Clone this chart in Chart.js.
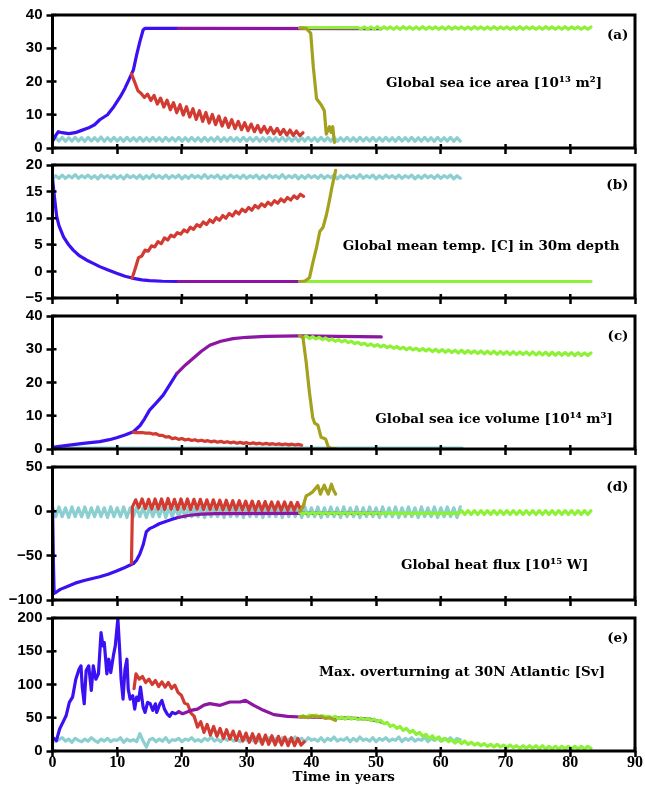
<!DOCTYPE html>
<html>
<head>
<meta charset="utf-8">
<script src="https://cdn.jsdelivr.net/npm/chart.js@4.4.1/dist/chart.umd.min.js"></script>
<style>
html, body { margin: 0; padding: 0; background: #fff; overflow: hidden; }
canvas { position: absolute; left: 0; }
</style>
</head>
<body>
<canvas id="panel-a" width="645" height="151" style="top:7px"></canvas>
<canvas id="panel-b" width="645" height="151" style="top:157px"></canvas>
<canvas id="panel-c" width="645" height="151" style="top:308px"></canvas>
<canvas id="panel-d" width="645" height="151" style="top:459px"></canvas>
<canvas id="panel-e" width="645" height="179" style="top:610px"></canvas>
<script>
// x axis: time in years
var xTicks = [0, 10, 20, 30, 40, 50, 60, 70, 80, 90];

// ---------- (a) global sea ice area ----------
var tealA = [2.2,3.1,2.1,3.2,2.0,3.1,2.1,3.2,2.1,3.1,
	2.0,3.2,2.1,3.1,2.1,3.3,2.0,3.1,2.1,3.2,
	2.1,3.1,2.0,3.2,2.1,3.1,2.1,3.2,2.0,3.1,
	2.1,3.2,2.1,3.1,2.0,3.2,2.1,3.1,2.1,3.2,
	2.0,3.1,2.1,3.2,2.1,3.1,2.0,3.2,2.1,3.1,
	2.1,3.3,2.0,3.1,2.1,3.2,2.1,3.1,2.0,3.2,
	2.1,3.1,2.1,3.2,2.0,3.1,2.1,3.2,2.1,3.1,
	2.0,3.2,2.1,3.1,2.1,3.2,2.0,3.1,2.1,3.2,
	2.1,3.1,2.0,3.2,2.1,3.1,2.1,3.2,2.0,3.1,
	2.1,3.2,2.1,3.1,2.0,3.2,2.1,3.1,2.1,3.2,
	2.0,3.1,2.1,3.2,2.1,3.1,2.0,3.2,2.1,3.1,
	2.1,3.2,2.0,3.1,2.1,3.2,2.1,3.1,2.0,3.2,
	2.1,3.1,2.1,3.2,2.0,3.1,2.1];
var blueA = [[0,2.0],[0.5,3.8],[0.9,4.9],[1.5,4.6],[2.5,4.3],[3.5,4.6],[4.5,5.3],[5.5,6.0],[6.5,7.0],
	[7.3,8.5],[8.5,10.0],[9.5,12.5],[10.5,15.5],[11.2,18.0],[11.8,20.5],[12.5,23.5],[13.0,28.0],
	[13.5,32.0],[14.0,35.5],[14.3,36.0],[19.4,36.0]];
var purpleA = [[19.4,36.0],[50.8,35.9]];
var redA = [22.3,19.8,17.2,16.4,15.2,16.2,14.3,15.8,13.2,15.0,
	12.3,14.4,11.5,13.6,10.6,13.0,9.9,12.4,9.3,11.8,
	8.6,11.2,8.0,10.7,7.5,10.1,7.0,9.6,6.6,9.0,
	6.2,8.5,5.8,8.0,5.5,7.6,5.2,7.2,4.9,6.8,
	4.7,6.5,4.5,6.2,4.3,5.9,4.1,5.6,3.9,5.4,
	3.8,5.1,3.7,4.6];
var oliveA = [[38.2,36.1],[39.2,36.0],[39.9,34.5],[40.3,24.3],[40.8,14.8],[41.5,13.0],[42.0,11.2],
	[42.3,4.2],[42.8,6.4],[43.05,4.7],[43.3,6.4],[43.55,1.7]];
var greenA = [36.2,36.2,36.2,36.2,36.2,36.2,36.2,36.2,36.2,36.2,
	36.2,36.2,36.2,36.2,36.2,36.2,36.2,36.2,36.2,35.8,
	36.4,35.7,36.4,35.7,36.5,35.7,36.4,35.8,36.4,35.7,
	36.4,35.7,36.5,35.8,36.4,35.7,36.4,35.7,36.5,35.7,
	36.4,35.8,36.4,35.7,36.4,35.7,36.5,35.7,36.4,35.8,
	36.4,35.7,36.4,35.7,36.5,35.8,36.4,35.7,36.4,35.7,
	36.5,35.7,36.4,35.8,36.4,35.7,36.4,35.7,36.5,35.7,
	36.4,35.8,36.4,35.7,36.4,35.7,36.5,35.8,36.4,35.7,
	36.4,35.7,36.5,35.7,36.4,35.8,36.4,35.7,36.4,35.7,
	36.4];

// ---------- (b) mean temperature in 30m ----------
var tealB = [17.4,18.0,17.5,18.1,17.5,18.0,17.6,18.2,17.5,18.0,
	17.6,18.1,17.5,18.0,17.4,18.1,17.6,18.0,17.5,18.1,
	17.5,18.0,17.4,18.1,17.6,18.0,17.5,18.1,17.4,18.0,
	17.5,18.2,17.6,18.0,17.5,18.1,17.5,18.0,17.6,18.1,
	17.4,18.0,17.5,18.1,17.6,18.0,17.5,18.2,17.5,18.0,
	17.6,18.1,17.4,18.0,17.5,18.1,17.6,18.0,17.5,18.1,
	17.5,18.0,17.6,18.1,17.4,18.0,17.5,18.1,17.6,18.0,
	17.5,18.2,17.5,18.0,17.6,18.1,17.4,18.0,17.5,18.1,
	17.6,18.0,17.5,18.1,17.5,18.0,17.6,18.1,17.4,18.0,
	17.5,18.1,17.6,18.0,17.5,18.2,17.5,18.0,17.6,18.1,
	17.4,18.0,17.5,18.1,17.6,18.0,17.5,18.1,17.5,18.0,
	17.6,18.1,17.4,18.0,17.5,18.1,17.6,18.0,17.5,18.1,
	17.5,18.0,17.6,18.1,17.4,18.0,17.5];
var blueB = [[0,17.5],[0.3,14.0],[0.65,10.3],[1.0,8.6],[1.7,6.5],[2.5,5.0],[3.2,4.0],[4.2,2.9],
	[5.3,2.1],[6.3,1.5],[7.3,0.9],[8.5,0.3],[9.9,-0.35],[11.2,-0.9],[12.5,-1.3],[13.8,-1.6],
	[15.0,-1.75],[17.0,-1.85],[19.4,-1.9]];
var purpleB = [[19.4,-1.9],[50.8,-1.9]];
var redB = [-1.3,0.6,2.6,2.9,4.0,3.8,4.8,4.6,5.6,5.2,
	6.3,5.9,6.8,6.5,7.3,7.0,7.8,7.4,8.3,7.9,
	8.8,8.4,9.3,8.8,9.7,9.2,10.1,9.6,10.5,10.0,
	10.9,10.4,11.3,10.8,11.7,11.2,12.0,11.5,12.4,11.9,
	12.7,12.2,13.0,12.5,13.3,12.8,13.6,13.1,13.9,13.4,
	14.2,13.7,14.5,14.1];
var oliveB = [[38.2,-1.9],[39.0,-1.8],[39.7,-1.2],[40.2,1.5],[40.8,4.5],[41.3,7.5],[41.8,8.3],
	[42.3,10.5],[42.8,13.4],[43.2,16.0],[43.75,19.0]];
var greenB = [[38.2,-1.9],[83.2,-1.9]];

// ---------- (c) global sea ice volume ----------
var tealC = [[0,0.3],[63.3,0.3]];
var blueC = [[0,0.5],[2,1.0],[4.75,1.7],[7.3,2.2],[8.8,2.8],[9.9,3.4],[11.2,4.2],[12.5,5.2],
	[13.5,7.0],[14.2,9.0],[15.0,11.7],[16.0,13.8],[17.1,16.2],[18.2,19.6],[19.2,22.7]];
var purpleC = [[19.2,22.7],[20.5,25.2],[21.7,27.2],[23.0,29.4],[24.3,31.2],[26.0,32.4],[27.9,33.2],
	[30.0,33.6],[33.0,33.9],[38.2,34.0],[44.0,33.9],[50.8,33.7]];
var redC = [5.0,4.95,4.9,4.9,4.75,4.8,4.5,4.6,4.1,4.1,
	3.6,3.7,3.1,3.35,2.9,3.15,2.7,2.95,2.55,2.8,
	2.4,2.65,2.3,2.5,2.15,2.4,2.05,2.3,1.95,2.2,
	1.85,2.1,1.75,2.0,1.7,1.9,1.6,1.85,1.55,1.75,
	1.45,1.7,1.4,1.6,1.35,1.55,1.3,1.5,1.25,1.45,
	1.2,1.4,1.15];
var oliveC = [[38.2,34.0],[38.7,33.5],[39.2,26.0],[39.7,17.0],[40.2,9.5],[40.5,7.8],[41.0,7.2],
	[41.5,3.5],[42.2,3.0],[42.6,0.7],[43.0,0.2],[43.75,0.1]];
var greenC = [34.0,33.4,34.0,33.2,33.8,33.1,33.6,32.9,33.4,32.6,
	33.1,32.4,32.9,32.2,32.7,32.0,32.4,31.7,32.1,31.4,
	31.8,31.1,31.6,30.9,31.4,30.7,31.2,30.5,31.0,30.3,
	30.8,30.1,30.6,29.9,30.5,29.8,30.3,29.6,30.2,29.5,
	30.1,29.3,30.0,29.2,29.9,29.1,29.8,29.0,29.7,28.9,
	29.7,28.8,29.6,28.8,29.5,28.7,29.5,28.6,29.4,28.6,
	29.4,28.5,29.3,28.5,29.3,28.4,29.3,28.4,29.2,28.4,
	29.2,28.3,29.2,28.3,29.1,28.3,29.1,28.2,29.1,28.2,
	29.0,28.2,29.0,28.2,29.0,28.1,29.0,28.1,28.9,28.1,
	28.9];

// ---------- (d) global heat flux ----------
var tealD = [4,-6,5,-6,4,-7,5,-6,4,-6,
	5,-7,4,-6,5,-6,4,-7,5,-6,
	4,-6,5,-7,4,-6,5,-6,4,-7,
	5,-6,4,-6,5,-7,4,-6,5,-6,
	4,-7,5,-6,4,-6,5,-7,4,-6,
	5,-6,4,-7,5,-6,4,-6,5,-7,
	4,-6,5,-6,4,-7,5,-6,4,-6,
	5,-7,4,-6,5,-6,4,-7,5,-6,
	4,-6,5,-7,4,-6,5,-6,4,-7,
	5,-6,4,-6,5,-7,4,-6,5,-6,
	4,-7,5,-6,4,-6,5,-7,4,-6,
	5,-6,4,-7,5,-6,4,-6,5,-7,
	4,-6,5,-6,4,-7,5];
var blueD = [[0,5],[0.15,-60],[0.25,-92.5],[0.6,-91],[1.2,-88],[2.2,-85],[3.5,-81],[4.75,-78.3],
	[6.0,-76],[7.3,-73.8],[8.6,-71],[9.9,-67.4],[11.0,-64],[12.0,-60.6],[12.5,-59],[13.0,-55],
	[13.5,-48],[14.0,-38],[14.5,-23],[15.0,-19.5],[15.6,-17.5],[16.5,-14],[17.6,-11.1],
	[18.5,-9],[19.4,-7]];
var purpleD = [[19.4,-7],[21.2,-4.4],[23.0,-3.2],[25.3,-2.5],[38.2,-2.3],[50.8,-2.3]];
var redDStart = [[12.2,-58.5]];
var redD = [5,13,4,14,3,13.5,2.5,14,2.5,14,
	2,14.5,2.5,13.5,2,14,2.5,14,2,13.5,
	2.5,13.5,2,13,2,13,2,12.5,1.5,12.5,
	1.5,12,1.5,12,1.5,11.5,1,11.5,1,11,
	1,11,1,10.5,1,10.5,1,10.5,1,10,
	1,10,1.5,8];
var oliveD = [[38.2,0],[38.7,5],[39.2,17.5],[39.7,19.4],[40.2,22],[40.5,24.7],[41.0,29],[41.4,19.4],
	[41.7,25],[42.0,29.4],[42.3,24],[42.6,19.4],[43.1,30.6],[43.4,24],[43.75,19.4]];
var greenD = [-1.5,-3.0,-1.5,-3.0,-1.5,-3.0,-1.5,-3.0,-1.5,-3.0,
	-1.5,-3.0,-1.5,-3.0,-1.5,-3.0,-1.5,-3.0,-1.5,-3.0,
	-1.5,-3.0,-1.5,-3.0,-1.5,-3.0,-1.5,-3.0,-1.5,-3.0,
	-1.5,-3.0,-1.5,-3.0,-1.5,-3.0,-1.5,-3.0,-1.5,-3.0,
	-1.5,-3.0,-1.5,-3.0,-1.5,-3.0,-1.5,-3.0,-1.5,-3.0,
	0.8,-3.5,0.8,-3.5,0.8,-3.5,0.8,-3.5,0.8,-3.5,
	0.8,-3.5,0.8,-3.5,0.8,-3.5,0.8,-3.5,0.8,-3.5,
	0.8,-3.5,0.8,-3.5,0.8,-3.5,0.8,-3.5,0.8,-3.5,
	0.8,-3.5,0.8,-3.5,0.8,-3.5,0.8,-3.5,0.8,-3.5,
	0.8];

// ---------- (e) max. overturning at 30N ----------
var tealE = [19,14,17,20,15,18,13,19,16,14,
	18,15,20,16,13,18,15,19,14,17,
	16,20,13,18,15,17,14,26,15,6,
	17,19,14,18,15,20,13,17,16,19,
	14,18,16,20,15,17,14,19,16,21,
	15,18,14,20,16,19,15,18,14,20,
	16,19,15,21,14,18,16,20,15,19,
	14,20,16,18,15,21,16,19,14,20,
	16,18,15,20,14,19,16,21,15,18,
	16,20,14,19,15,21,16,18,15,20,
	14,19,16,20,15,18,16,21,14,19,
	16,20,15,18,16,21,14,19,16,20,
	15,19,16,20,14,19,17];
var blueE = [[0,20.6],[0.6,15.6],[1.1,33],[1.6,43],[2.1,53],[2.6,73],[3.1,81],[3.6,108],[4.1,123],
	[4.4,128],[4.6,96],[4.9,71],[5.2,121],[5.6,128],[6.0,91],[6.3,128],[6.7,108],[7.1,116],
	[7.5,178],[7.8,158],[8.0,163],[8.4,116],[8.7,138],[9.0,118],[9.4,143],[9.7,158],[10.1,199],
	[10.4,148],[10.6,108],[10.9,78],[11.2,123],[11.5,138],[11.7,93],[12.0,78],[12.4,83],
	[12.7,63],[13.0,81],[13.3,76],[13.6,96],[14.0,66],[14.3,58],[14.7,73],[15.1,71],[15.5,61],
	[15.9,71],[16.1,58],[16.6,71],[16.9,76],[17.3,63],[17.7,56],[18.1,52],[18.5,58],[19.0,56],
	[19.5,59]];
var purpleE = [[19.5,59],[20.1,56],[20.6,58],[21.4,61],[22.4,63],[23.4,69],[24.3,71.2],[25.9,68.7],
	[27.4,73.7],[29.0,73.7],[29.8,76.2],[31.1,68.7],[32.6,61.2],[34.2,54.7],[36.3,52.2],
	[38.3,51.1],[42.0,50.5],[46.0,49.5],[49.0,48],[50.8,43.6]];
var redEStart = [[12.6,93.8],[12.9,116]];
var redE = [108,112,103,108,100,106,97,104,96,103,
	94,99,88,84,72,70,57,52,36,44,
	28,40,24,37,22,34,19,32,18,30,
	16,29,15,27,13,26,12,25,10,24,
	10,23,9,22,9,21,8,20,8,19,
	9,14];
var oliveE = [[38.2,51],[38.8,52],[39.5,50],[40.2,53],[40.8,51],[41.5,52],[42.2,49],[42.8,50],[43.75,46]];
var greenE = [51,53,51,54,52,54,52,53,51,52,
	50,52,49,51,48,51,48,50,47,50,
	47,49,46,48,44,46,41,43,37,39,
	34,37,31,34,28,31,25,28,22,25,
	19,23,17,21,15,19,14,17,12,16,
	11,15,10,13,9,12,8,11,7,10,
	6,10,6,9,5,9,5,8,4,8,
	4,8,4,8,3,8,3,7,3,7,
	3,7,3,7,3,7,3,7,3,7,
	4];

var BLUE = '#3b10f2', RED = '#d23b31', PURPLE = '#8c16a2', OLIVE = '#a3a11d', GREEN = '#8df136', TEAL = '#8ccfd0';

function series(t0, dt, vals) {
	return vals.map(function(v, i) { return {x: t0 + i * dt, y: v}; });
}
function pairs(arr) {
	return arr.map(function(p) { return {x: p[0], y: p[1]}; });
}
function line(data, color, order) {
	return {data: data, borderColor: color, borderWidth: 3.2, pointRadius: 0, tension: 0,
		fill: false, order: order, borderJoinStyle: 'round', borderCapStyle: 'round'};
}

// frame, inner tick stubs, panel tag, panel title and axis title
var framePlugin = {
	id: 'frame',
	afterDraw: function(chart) {
		var a = chart.chartArea, ctx = chart.ctx;
		var o = chart.options.plugins.frame;
		ctx.save();
		ctx.strokeStyle = '#000';
		ctx.lineWidth = 3;
		ctx.strokeRect(a.left, a.top, a.right - a.left, a.bottom - a.top);
		ctx.lineWidth = 2.5;
		ctx.beginPath();
		chart.scales.x.ticks.forEach(function(t) {
			var px = chart.scales.x.getPixelForValue(t.value);
			ctx.moveTo(px, a.bottom);
			ctx.lineTo(px, a.bottom - 4);
		});
		chart.scales.y.ticks.forEach(function(t) {
			var py = chart.scales.y.getPixelForValue(t.value);
			ctx.moveTo(a.left, py);
			ctx.lineTo(a.left + 4, py);
		});
		ctx.stroke();
		ctx.fillStyle = '#000';
		ctx.font = 'bold 13.5px "DejaVu Serif"';
		ctx.textBaseline = 'middle';
		ctx.textAlign = 'right';
		ctx.fillText(o.tag, a.right - 6.5, a.top + 20.5);
		ctx.textAlign = 'center';
		ctx.fillText(o.title, a.left + o.tx * (a.right - a.left), a.top + o.ty);
		if (o.xtitle)
			ctx.fillText(o.xtitle, (a.left + a.right) / 2, a.bottom + 26);
		ctx.restore();
	}
};

function makePanel(id, yMin, yMax, yStep, datasets, frame, last) {
	return new Chart(document.getElementById(id), {
		type: 'line',
		data: {datasets: datasets},
		plugins: [framePlugin],
		options: {
			responsive: false,
			animation: false,
			events: [],
			layout: {padding: {top: 8, right: 10, left: 0, bottom: 0}},
			plugins: {legend: {display: false}, tooltip: {enabled: false}, frame: frame},
			scales: {
				x: {
					type: 'linear', min: 0, max: 90,
					afterBuildTicks: function(s) { s.ticks = xTicks.map(function(v) { return {value: v}; }); },
					grid: {drawOnChartArea: false, drawTicks: true, tickLength: 6, tickWidth: 2.5, tickColor: '#000'},
					border: {display: false},
					ticks: {display: last, color: '#000', padding: -4, maxRotation: 0, autoSkip: false,
						font: {family: 'Liberation Serif', weight: 'bold', size: 16}},
					afterFit: function(s) { s.height = last ? 38 : 10; s.paddingLeft = 0; s.paddingRight = 0; }
				},
				y: {
					min: yMin, max: yMax,
					grid: {drawOnChartArea: false, drawTicks: true, tickLength: 6, tickWidth: 2.5, tickColor: '#000'},
					border: {display: false},
					ticks: {stepSize: yStep, color: '#000', padding: 4,
						font: {family: 'Liberation Sans', weight: 'bold', size: 15},
						callback: function(v) { return String(v).replace('-', '\u2212'); }},
					afterFit: function(s) { s.width = 52.5; s.paddingTop = 0; s.paddingBottom = 0; }
				}
			}
		}
	});
}

makePanel('panel-a', 0, 40, 10, [
	line(pairs(oliveA), OLIVE, 0),
	line(series(38.2, 0.5, greenA), GREEN, 1),
	line(pairs(purpleA), PURPLE, 2),
	line(series(12.2, 0.5, redA), RED, 3),
	line(pairs(blueA), BLUE, 4),
	line(series(0, 0.5, tealA), TEAL, 5)
], {tag: '(a)', title: 'Global sea ice area [10\u00b9\u00b3 m\u00b2]', tx: 0.758, ty: 68.6}, false);

makePanel('panel-b', -5, 20, 5, [
	line(pairs(oliveB), OLIVE, 0),
	line(pairs(greenB), GREEN, 1),
	line(pairs(purpleB), PURPLE, 2),
	line(series(12.3, 0.5, redB), RED, 3),
	line(pairs(blueB), BLUE, 4),
	line(series(0, 0.5, tealB), TEAL, 5)
], {tag: '(b)', title: 'Global mean temp. [C] in 30m depth', tx: 0.736, ty: 81}, false);

makePanel('panel-c', 0, 40, 10, [
	line(pairs(oliveC), OLIVE, 0),
	line(series(38.2, 0.5, greenC), GREEN, 1),
	line(pairs(purpleC), PURPLE, 2),
	line(series(12.5, 0.5, redC), RED, 3),
	line(pairs(blueC), BLUE, 4),
	line(pairs(tealC), TEAL, 5)
], {tag: '(c)', title: 'Global sea ice volume [10\u00b9\u2074 m\u00b3]', tx: 0.758, ty: 103.3}, false);

makePanel('panel-d', -100, 50, 50, [
	line(pairs(oliveD), OLIVE, 0),
	line(series(38.2, 0.5, greenD), GREEN, 1),
	line(pairs(purpleD), PURPLE, 2),
	line(pairs(redDStart).concat(series(12.35, 0.5, redD)), RED, 3),
	line(pairs(blueD), BLUE, 4),
	line(series(0, 0.5, tealD), TEAL, 5)
], {tag: '(d)', title: 'Global heat flux [10\u00b9\u2075 W]', tx: 0.759, ty: 98.3}, false);

makePanel('panel-e', 0, 200, 50, [
	line(pairs(oliveE), OLIVE, 0),
	line(series(38.2, 0.5, greenE), GREEN, 1),
	line(pairs(purpleE), PURPLE, 2),
	line(pairs(redEStart).concat(series(13.4, 0.5, redE)), RED, 3),
	line(pairs(blueE), BLUE, 4),
	line(series(0, 0.5, tealE), TEAL, 5)
], {tag: '(e)', title: 'Max. overturning at 30N Atlantic [Sv]', tx: 0.703, ty: 54, xtitle: 'Time in years'}, true);
</script>
</body>
</html>
